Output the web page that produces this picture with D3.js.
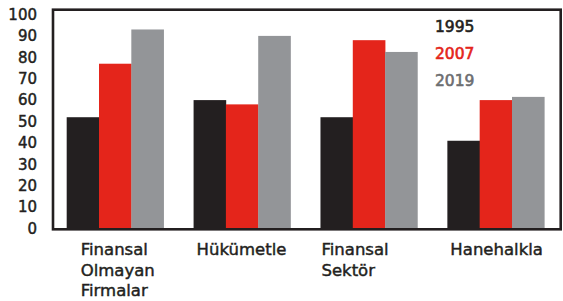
<!DOCTYPE html>
<html>
<head>
<meta charset="utf-8">
<script src="https://cdn.jsdelivr.net/npm/d3@7"></script>
<style>
  html, body { margin: 0; padding: 0; background: #fff; }
  svg { display: block; font-family: "DejaVu Sans", sans-serif; }
</style>
</head>
<body>
<svg id="chart" width="563" height="301"></svg>
<script>
// data
var categories = [["Finansal", "Olmayan", "Firmalar"], ["Hükümetle"], ["Finansal", "Sektör"], ["Hanehalkla"]];
var seriesNames = ["1995", "2007", "2019"];
var values1995 = [52, 60, 52, 41];
var values2007 = [77, 58, 88, 60];
var values2019 = [93, 90, 82.5, 61.5];
var yTicks = [0, 10, 20, 30, 40, 50, 60, 70, 80, 90, 100];

var barColors = ["#231f20", "#e4251b", "#939598"];
var legendColors = ["#231f20", "#e4251b", "#6d6e71"];
var labelDx = [14, 3, 1, 3]; // label nudges, as in the original

var series = [values1995, values2007, values2019];
var svg = d3.select("#chart");

var frame = { left: 53, top: 9.7, right: 560.7, bottom: 229.3 };

var x0 = d3.scaleBand()
    .domain(d3.range(categories.length))
    .range([54, 557])
    .paddingInner(0.236)
    .paddingOuter(0.1);

var x1 = d3.scaleBand()
    .domain(d3.range(seriesNames.length))
    .range([0, x0.bandwidth()]);

var y = d3.scaleLinear().domain([0, 100]).range([228.5, 14.5]);

// bars
var groups = svg.append("g").selectAll("g")
    .data(categories)
    .join("g")
    .attr("transform", function(d, i) { return "translate(" + x0(i) + ",0)"; });

groups.selectAll("rect")
    .data(function(d, i) { return series.map(function(s, j) { return { s: j, v: s[i] }; }); })
    .join("rect")
    .attr("x", function(d) { return x1(d.s); })
    .attr("width", x1.bandwidth() + 0.3)
    .attr("y", function(d) { return y(d.v); })
    .attr("height", function(d) { return frame.bottom - y(d.v); })
    .attr("fill", function(d) { return barColors[d.s]; });

// frame
svg.append("rect")
    .attr("x", frame.left)
    .attr("y", frame.top)
    .attr("width", frame.right - frame.left)
    .attr("height", frame.bottom - frame.top)
    .attr("fill", "none")
    .attr("stroke", "#231f20")
    .attr("stroke-width", 2.6);

// y axis labels
var yAxis = d3.axisLeft(y).tickValues(yTicks).tickSize(0).tickPadding(0);
var yg = svg.append("g").attr("transform", "translate(37,0)").call(yAxis);
yg.select(".domain").remove();
yg.selectAll("text")
    .attr("font-family", "DejaVu Sans, sans-serif")
    .attr("font-size", 15)
    .attr("fill", "#231f20")
    .attr("stroke", "#231f20")
    .attr("stroke-width", 0.45);

// category labels
var catText = svg.append("g").selectAll("text")
    .data(categories)
    .join("text")
    .attr("x", function(d, i) { return x0(i) + labelDx[i]; })
    .attr("y", 255)
    .attr("font-size", 16.5)
    .attr("fill", "#231f20")
    .attr("stroke", "#231f20")
    .attr("stroke-width", 0.45);

catText.selectAll("tspan")
    .data(function(d) { return d; })
    .join("tspan")
    .attr("x", function() { return d3.select(this.parentNode).attr("x"); })
    .attr("dy", function(d, i) { return i === 0 ? 0 : 20.5; })
    .text(function(d) { return d; });

// legend
svg.append("g").selectAll("text")
    .data(seriesNames)
    .join("text")
    .attr("x", 435)
    .attr("y", function(d, i) { return 32 + i * 27; })
    .attr("font-size", 15.5)
    .attr("fill", function(d, i) { return legendColors[i]; })
    .attr("stroke", function(d, i) { return legendColors[i]; })
    .attr("stroke-width", 0.6)
    .text(function(d) { return d; });
</script>
</body>
</html>
